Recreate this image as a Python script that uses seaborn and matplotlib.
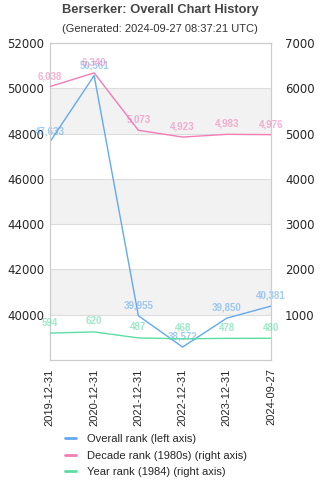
import matplotlib
matplotlib.use("Agg")
import matplotlib.pyplot as plt
import seaborn as sns
import pandas as pd
from matplotlib.lines import Line2D

dates = ["2019-12-31", "2020-12-31", "2021-12-31", "2022-12-31", "2023-12-31", "2024-09-27"]
overall = [47633, 50561, 39955, 38572, 39850, 40381]
decade = [6038, 6340, 5073, 4923, 4983, 4976]
year = [594, 620, 487, 468, 478, 480]
left_ticks = [40000, 42000, 44000, 46000, 48000, 50000, 52000]
right_ticks = [1000, 2000, 3000, 4000, 5000, 6000, 7000]

c_blue = "#63aaf0"
c_pink = "#f07db6"
c_green = "#5ddca3"

df = pd.DataFrame({"x": range(len(dates)), "overall": overall, "decade": decade, "year": year})

sns.set_style("white")
fig = plt.figure(figsize=(3.2, 4.8), dpi=100)
ax = fig.add_axes([0.156, 0.25, 0.691, 0.6604])
ax2 = ax.twinx()

ax.set_ylim(38000, 52000)
ax2.set_ylim(0, 7000)
ax.set_xlim(0, len(dates) - 1)

# bands
for lo in [40000, 44000, 48000]:
    ax.axhspan(lo, lo + 2000, color="#f2f2f2", zorder=0, lw=0)
for t in left_ticks:
    ax.axhline(t, color="#dddddd", lw=0.8, zorder=0.5)

sns.lineplot(data=df, x="x", y="overall", ax=ax, color=c_blue, lw=1, zorder=3)
sns.lineplot(data=df, x="x", y="decade", ax=ax2, color=c_pink, lw=1, zorder=3)
sns.lineplot(data=df, x="x", y="year", ax=ax2, color=c_green, lw=1, zorder=3)

for i, v in enumerate(overall):
    ax.annotate(f"{v:,}", (i, v), xytext=(0, 4), textcoords="offset points", ha="center",
                va="bottom", fontsize=7, color=c_blue, alpha=0.6, fontweight="bold",
                family="Liberation Sans", zorder=4)
for i, v in enumerate(decade):
    ax2.annotate(f"{v:,}", (i, v), xytext=(0, 4), textcoords="offset points", ha="center",
                 va="bottom", fontsize=7, color=c_pink, alpha=0.6, fontweight="bold",
                 family="Liberation Sans", zorder=4)
for i, v in enumerate(year):
    ax2.annotate(f"{v:,}", (i, v), xytext=(0, 4), textcoords="offset points", ha="center",
                 va="bottom", fontsize=7, color=c_green, alpha=0.6, fontweight="bold",
                 family="Liberation Sans", zorder=4)

ax.set_yticks(left_ticks)
ax.set_yticklabels([str(t) for t in left_ticks], fontsize=8.5)
ax2.set_yticks(right_ticks)
ax2.set_yticklabels([str(t) for t in right_ticks], fontsize=8.5)
ax.set_xticks(range(len(dates)))
ax.set_xticklabels(dates, rotation=90, fontsize=8, family="Liberation Sans")
ax.set_xlabel("")
ax.set_ylabel("")
ax2.set_ylabel("")
ax.tick_params(axis="both", length=0, pad=4)
ax2.tick_params(axis="both", length=0, pad=10)
ax.tick_params(axis="x", pad=6)

for a in (ax, ax2):
    for s in a.spines.values():
        s.set_color("#cccccc")
        s.set_linewidth(0.8)

fig.text(0.5, 0.979, "Berserker: Overall Chart History", ha="center", va="center",
         fontsize=9.3, fontweight="bold", color="#444444", family="Liberation Sans")
fig.text(0.5, 0.939, "(Generated: 2024-09-27 08:37:21 UTC)", ha="center", va="center",
         fontsize=8, color="#333333", family="Liberation Sans")

handles = [Line2D([0], [0], color=c, lw=2) for c in (c_blue, c_pink, c_green)]
labels = ["Overall rank (left axis)", "Decade rank (1980s) (right axis)", "Year rank (1984) (right axis)"]
fig.legend(handles, labels, loc="upper left", bbox_to_anchor=(0.19, 0.105), frameon=False,
           prop={"family": "Liberation Sans", "size": 8}, handlelength=1.0,
           labelspacing=0.6, handletextpad=1.0, borderaxespad=0)

fig.savefig("out.png", dpi=100)
